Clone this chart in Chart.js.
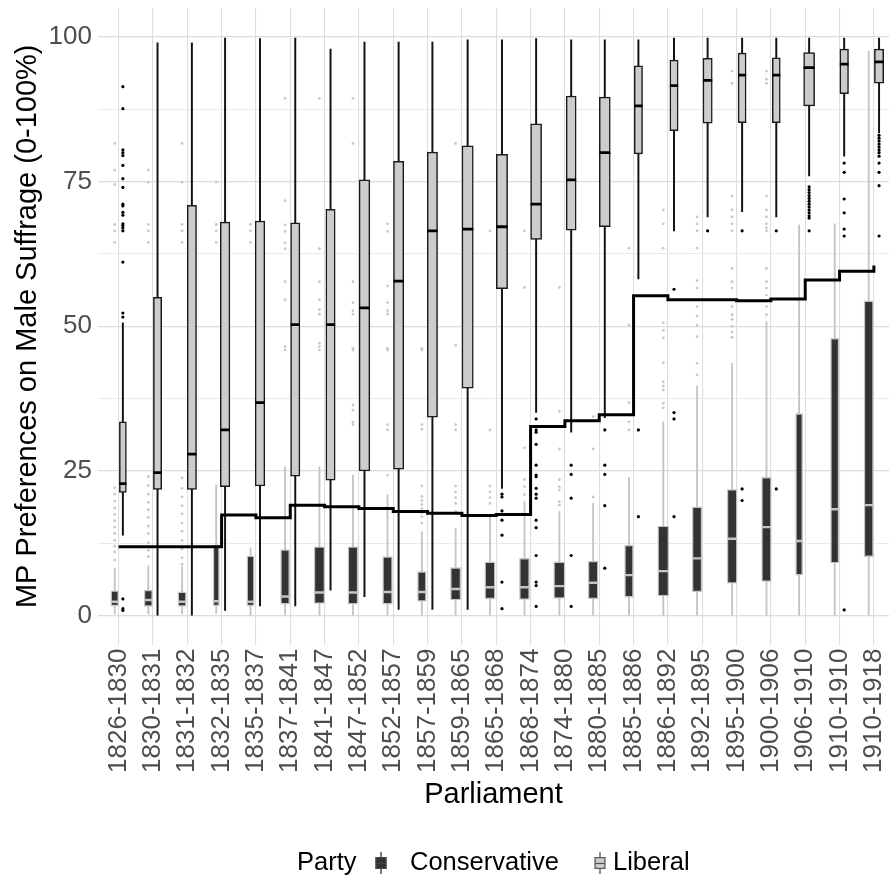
<!DOCTYPE html>
<html>
<head>
<meta charset="utf-8">
<script src="https://cdn.jsdelivr.net/npm/chart.js@4.4.0/dist/chart.umd.min.js"></script>
<style>
  html, body { margin: 0; padding: 0; background: #ffffff; }
  #wrap { width: 889px; height: 884px; position: relative; }
</style>
</head>
<body>
<div id="wrap"><canvas id="chart" width="889" height="884"></canvas></div>
<script>
// Parliaments (x categories)
const parliaments = ["1826-1830","1830-1831","1831-1832","1832-1835","1835-1837","1837-1841","1841-1847","1847-1852","1852-1857","1857-1859","1859-1865","1865-1868","1868-1874","1874-1880","1880-1885","1885-1886","1886-1892","1892-1895","1895-1900","1900-1906","1906-1910","1910-1910","1910-1918"];

// Liberal box statistics
const libLow  = [13.9, 0.0, 0.0, 0.9, 1.7, 1.7, 4.4, 3.3, 1.1, 1.1, 1.1, 22.0, 35.1, 31.7, 34.2, 58.2, 66.5, 68.9, 69.8, 68.9, 76.0, 79.4, 83.4];
const libQ1   = [21.3, 21.8, 21.8, 22.3, 22.4, 24.1, 23.4, 25.0, 25.3, 34.3, 39.3, 56.5, 65.0, 66.6, 67.2, 79.8, 83.8, 85.1, 85.2, 85.2, 88.1, 90.2, 92.0];
const libMed  = [22.8, 24.7, 27.9, 32.1, 36.8, 50.3, 50.3, 53.2, 57.8, 66.5, 66.8, 67.2, 71.1, 75.3, 80.0, 88.1, 91.6, 92.5, 93.4, 93.4, 94.7, 95.3, 95.7];
const libQ3   = [33.5, 55.0, 70.9, 68.0, 68.2, 67.9, 70.2, 75.3, 78.5, 80.1, 81.2, 79.7, 85.0, 89.8, 89.6, 95.0, 96.0, 96.3, 97.2, 96.4, 97.3, 97.9, 97.9];
const libHigh = [50.6, 99.0, 99.0, 99.8, 99.7, 99.8, 97.9, 99.1, 99.1, 99.1, 99.5, 99.5, 99.7, 99.5, 99.5, 99.5, 99.8, 99.8, 99.8, 99.8, 99.8, 99.8, 99.8];
const libOutliers = [
  [91.4, 87.6, 80.5, 80.0, 79.5, 77.8, 75.5, 74.0, 71.1, 70.8, 69.7, 69.2, 67.7, 67.4, 67.0, 66.5, 61.1, 52.3, 51.6, 2.9, 1.2, 0.9],
  [], [], [], [], [], [], [], [], [], [],
  [21.0, 20.5, 18.1, 16.5, 13.9, 5.8, 1.2],
  [34.0, 32.1, 31.7, 29.6, 26.0, 24.3, 24.0, 22.0, 21.0, 20.3, 16.5, 15.2, 10.4, 5.8, 5.2, 1.6],
  [26.0, 24.4, 20.3, 10.4, 1.6],
  [32.1, 26.0, 24.4, 19.0, 8.2],
  [32.1, 17.1],
  [56.4, 35.1, 34.0, 17.1],
  [66.5],
  [66.5, 21.9, 19.9],
  [66.5, 21.9],
  [74.1, 73.6, 73.1, 72.6, 72.1, 71.6, 71.1, 70.6, 70.1, 69.6, 69.1, 68.7, 66.5],
  [78.2, 76.6, 72.0, 69.6, 66.8, 65.6, 1.0],
  [83.0, 82.5, 82.0, 81.5, 81.0, 80.5, 80.0, 79.4, 78.2, 76.6, 74.3, 65.6]
];

// Conservative box statistics
const conLow  = [0.3, 0.3, 0.3, 0.4, 0.0, 0.0, 0.0, 0.0, 0.0, 0.0, 0.0, 0.0, 0.0, 0.0, 0.0, 0.0, 0.0, 0.0, 0.0, 0.0, 0.0, 0.0, 0.0];
const conQ1   = [1.7, 1.6, 1.6, 1.7, 1.7, 2.0, 2.1, 2.0, 2.0, 2.5, 2.7, 2.9, 2.8, 3.0, 2.9, 3.2, 3.4, 4.1, 5.6, 5.9, 7.0, 9.1, 10.2];
const conMed  = [2.4, 2.7, 2.4, 2.5, 2.4, 3.3, 4.0, 4.0, 4.1, 4.1, 4.6, 4.9, 4.9, 5.1, 5.7, 7.0, 7.7, 9.9, 13.3, 15.3, 12.9, 18.4, 19.1];
const conQ3   = [4.3, 4.4, 4.1, 12.2, 10.3, 11.4, 11.9, 11.9, 10.2, 7.6, 8.3, 9.3, 9.9, 9.3, 9.4, 12.2, 15.5, 18.8, 21.8, 23.9, 34.9, 47.9, 54.4];
const conHigh = [8.2, 8.6, 8.5, 22.6, 11.7, 25.7, 25.7, 24.3, 20.9, 14.5, 15.1, 17.4, 19.7, 18.0, 19.4, 23.9, 33.5, 39.7, 43.6, 50.8, 67.5, 67.7, 97.5];
const conOutliers = [
  [81.6, 77.0, 74.5, 67.6, 66.5, 64.5, 22.1, 21.0, 19.8, 18.6, 17.5, 16.4, 15.3, 14.2, 13.0, 12.0, 11.0, 9.6],
  [77.0, 74.9, 67.6, 66.5, 64.5, 24.0, 22.5, 21.0, 19.6, 18.3, 17.0, 15.5, 14.2, 12.6, 11.3, 10.2],
  [81.6, 74.9, 67.6, 66.5, 64.5, 23.8, 22.0, 20.5, 19.0, 17.6, 16.0, 14.6, 13.0, 11.5, 10.0, 8.9],
  [74.9, 67.6, 66.5, 64.5],
  [67.6, 66.5, 64.5],
  [89.4, 71.7, 67.5, 66.4, 64.4, 63.4, 57.7, 54.6, 46.5, 45.9],
  [89.4, 63.4, 57.7, 54.6, 52.9, 52.1, 47.1, 46.5, 45.9],
  [89.4, 81.6, 57.7, 54.1, 52.7, 52.1, 46.2, 45.9, 36.4, 35.5, 33.4, 33.0],
  [67.7, 66.4, 57.0, 54.1, 52.7, 52.1, 46.2, 45.9, 33.0, 32.1, 24.3],
  [46.2, 45.9, 33.0, 32.2, 22.4, 20.6, 19.9, 19.2, 18.5, 17.8, 17.1, 16.0],
  [81.6, 46.7, 33.0, 32.1, 22.4, 21.4, 20.4, 19.4, 18.0],
  [66.5, 32.1, 22.4, 21.4, 20.4, 19.4],
  [66.5, 56.7, 29.0, 23.5, 22.3, 20.9],
  [56.7, 35.3, 28.8, 23.5, 22.3, 21.7, 19.7, 19.1],
  [34.4, 28.8, 20.5],
  [63.5, 50.2, 36.8, 33.5, 32.1],
  [70.1, 67.7, 63.5, 50.6, 49.3, 48.0, 43.7, 40.4, 39.7, 39.0, 36.7, 35.9],
  [68.9, 67.7, 66.5, 63.5, 57.9, 56.6, 53.4, 51.8, 50.2, 48.2, 43.6, 41.6],
  [94.1, 92.0, 72.5, 70.1, 68.9, 67.7, 66.5, 60.0, 57.7, 56.6, 53.4, 52.0, 51.2, 50.0, 49.0, 48.1],
  [94.1, 92.7, 92.0, 72.5, 70.1, 68.9, 67.7, 67.0, 66.5, 60.0, 57.7, 56.6, 55.4, 53.4, 52.0],
  [], [], []
];

// Step line: overall preference per parliament
const overall = [11.9, 11.9, 11.9, 17.4, 16.9, 19.1, 18.8, 18.5, 18.0, 17.7, 17.3, 17.5, 32.7, 33.7, 34.7, 55.3, 54.6, 54.6, 54.4, 54.7, 58.0, 59.5, 60.5];

// Relative box widths (share of one category step, grows with group size)
const conWidth = [.224, .242, .242, .183, .213, .262, .312, .291, .282, .253, .300, .300, .291, .329, .291, .253, .320, .282, .291, .282, .204, .242, .271];
const libWidth = [.204, .242, .271, .282, .282, .271, .271, .312, .300, .300, .329, .329, .320, .291, .320, .242, .242, .271, .233, .233, .320, .253, .271];

const yTickValues = [0, 25, 50, 75, 100];

// ---- layout constants ----
const PLOT_LEFT = 98, PLOT_TOP = 8, PLOT_BOTTOM = 644.6, CANVAS_W = 889, CANVAS_H = 884;
const LEGEND_SPACE = 72;
const X_MIN = -0.6, X_MAX = 22.44;
const unitPx = (CANVAS_W - PLOT_LEFT) / (X_MAX - X_MIN);
const DODGE_PAD = 0.9;   // boxes fill 90% of their dodge slot

// dodge: the two boxes sit side by side, centred on the category
const conX = parliaments.map((_, i) => i - libWidth[i] / (2 * DODGE_PAD));
const libX = parliaments.map((_, i) => i + conWidth[i] / (2 * DODGE_PAD));

const CON_FILL = '#333333', CON_LINE = '#c4c4c4';
const LIB_FILL = '#cccccc', LIB_LINE = '#1a1a1a';
const FONT = '"Liberation Sans", Arial, sans-serif';

function outlierPoints(outs, xs) {
  const pts = [];
  outs.forEach((arr, i) => arr.forEach(v => pts.push({ x: xs[i], y: v })));
  return pts;
}

const datasets = [];

// step line on top
datasets.push({
  type: 'line', label: 'overall',
  data: overall.map((v, i) => ({ x: i, y: v })),
  stepped: true, borderColor: '#000', borderWidth: 3,
  borderJoinStyle: 'miter', borderCapStyle: 'butt',
  pointRadius: 0, fill: false, order: 0
});

// outliers
datasets.push({
  type: 'scatter', label: 'lib-out', data: outlierPoints(libOutliers, libX),
  pointRadius: 1.6, pointBackgroundColor: '#000', pointBorderWidth: 0, order: 1
});
datasets.push({
  type: 'scatter', label: 'con-out', data: outlierPoints(conOutliers, conX),
  pointRadius: 1.4, pointBackgroundColor: '#c8c8c8', pointBorderWidth: 0, order: 1
});

// medians
datasets.push({
  type: 'scatter', label: 'lib-med',
  data: libMed.map((v, i) => ({ x: libX[i], y: v })),
  pointStyle: 'line', pointRadius: c => libWidth[c.dataIndex] * unitPx / 2,
  pointBorderColor: '#000', pointBorderWidth: 2.8, order: 2
});
datasets.push({
  type: 'scatter', label: 'con-med',
  data: conMed.map((v, i) => ({ x: conX[i], y: v })),
  pointStyle: 'line', pointRadius: c => conWidth[c.dataIndex] * unitPx / 2,
  pointBorderColor: CON_LINE, pointBorderWidth: 2.4, order: 2
});

// boxes (one dataset per box so each keeps its own width)
parliaments.forEach((p, i) => {
  datasets.push({
    type: 'bar', label: 'con-box-' + p,
    data: [{ x: conX[i], y: [conQ1[i], conQ3[i]] }],
    barThickness: conWidth[i] * unitPx, grouped: false,
    backgroundColor: CON_FILL, borderColor: CON_LINE, borderWidth: 1.4,
    borderSkipped: false, order: 3
  });
  datasets.push({
    type: 'bar', label: 'lib-box-' + p,
    data: [{ x: libX[i], y: [libQ1[i], libQ3[i]] }],
    barThickness: libWidth[i] * unitPx, grouped: false,
    backgroundColor: LIB_FILL, borderColor: LIB_LINE, borderWidth: 1.5,
    borderSkipped: false, order: 3
  });
});

// whiskers behind boxes
datasets.push({
  type: 'bar', label: 'con-whisker',
  data: conLow.map((v, i) => ({ x: conX[i], y: [v, conHigh[i]] })),
  barThickness: 1.2, grouped: false, backgroundColor: CON_LINE, borderWidth: 0, order: 4
});
datasets.push({
  type: 'bar', label: 'lib-whisker',
  data: libLow.map((v, i) => ({ x: libX[i], y: [v, libHigh[i]] })),
  barThickness: 1.3, grouped: false, backgroundColor: '#111', borderWidth: 0, order: 4
});

// legend drawn under the plot: "Party  [icon] Conservative  [icon] Liberal"
const partyLegend = {
  id: 'partyLegend',
  afterDraw(chart) {
    const ctx = chart.ctx;
    const cy = 863;
    ctx.save();
    ctx.font = '25.5px ' + FONT;
    ctx.fillStyle = '#000';
    ctx.textBaseline = 'middle';
    ctx.textAlign = 'left';
    ctx.fillText('Party', 297, cy);

    const icon = (x, fill, line, stem) => {
      ctx.strokeStyle = stem; ctx.lineWidth = 1.3;
      ctx.beginPath(); ctx.moveTo(x + 5.5, cy - 11); ctx.lineTo(x + 5.5, cy + 11); ctx.stroke();
      ctx.fillStyle = fill; ctx.fillRect(x, cy - 6, 11, 12);
      ctx.strokeStyle = line; ctx.lineWidth = 1.2; ctx.strokeRect(x + 0.6, cy - 5.4, 9.8, 10.8);
      ctx.beginPath(); ctx.moveTo(x + 0.6, cy + 0.5); ctx.lineTo(x + 10.4, cy + 0.5); ctx.stroke();
    };
    icon(375.5, CON_FILL, '#444444', '#333333');
    ctx.fillStyle = '#000';
    ctx.fillText('Conservative', 410, cy);
    icon(594.5, LIB_FILL, '#555555', '#555555');
    ctx.fillStyle = '#000';
    ctx.fillText('Liberal', 613, cy);
    ctx.restore();
  }
};

Chart.defaults.font.family = FONT;

new Chart(document.getElementById('chart'), {
  type: 'bar',
  data: { datasets },
  plugins: [partyLegend],
  options: {
    responsive: false,
    animation: false,
    devicePixelRatio: 1,
    events: [],
    layout: { autoPadding: false, padding: { top: PLOT_TOP, bottom: LEGEND_SPACE, left: 0, right: 0 } },
    plugins: { legend: { display: false }, tooltip: { enabled: false } },
    scales: {
      x: {
        type: 'linear', min: X_MIN, max: X_MAX, offset: false,
        afterBuildTicks: s => { s.ticks = parliaments.map((_, i) => ({ value: i })); },
        afterFit: s => { s.height = CANVAS_H - LEGEND_SPACE - PLOT_BOTTOM; s.paddingLeft = 0; s.paddingRight = 0; },
        ticks: {
          autoSkip: false, maxRotation: 90, minRotation: 90, padding: 4,
          color: '#4d4d4d', font: { size: 26 },
          callback: v => parliaments[v]
        },
        grid: { color: '#dedede', lineWidth: 1.1, drawTicks: false, offset: false },
        border: { display: false },
        title: { display: true, text: 'Parliament', color: '#000', font: { size: 29 }, padding: { top: 0, bottom: 0 } }
      },
      y: {
        type: 'linear', min: -5, max: 105,
        afterBuildTicks: s => {
          const t = [];
          for (let v = 0; v <= 100; v += 12.5) t.push({ value: v });
          s.ticks = t;
        },
        afterFit: s => { s.width = PLOT_LEFT; s.paddingTop = 0; s.paddingBottom = 0; },
        ticks: {
          padding: 6, color: '#4d4d4d', font: { size: 26 },
          callback: v => (yTickValues.includes(v) ? String(v) : '')
        },
        grid: {
          drawTicks: false,
          color: c => (yTickValues.includes(c.tick.value) ? '#dcdcdc' : '#e8e8e8'),
          lineWidth: c => (yTickValues.includes(c.tick.value) ? 1.2 : 0.9)
        },
        border: { display: false },
        title: { display: true, text: 'MP Preferences on Male Suffrage (0-100%)', color: '#000', font: { size: 29 }, padding: { top: 11, bottom: 0 } }
      }
    }
  }
});
</script>
</body>
</html>
